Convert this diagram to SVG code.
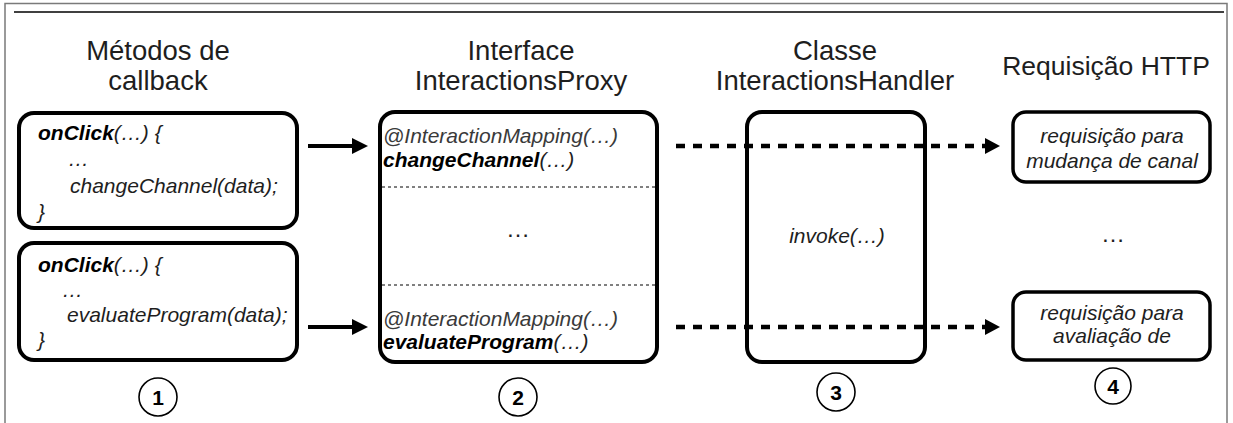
<svg xmlns="http://www.w3.org/2000/svg" width="1233" height="423" viewBox="0 0 1233 423">
<defs>
<style>
.head{font-family:"Liberation Sans",Arial,sans-serif;font-size:27.5px;fill:#1e1e1e;text-anchor:middle}
.code{font-family:"Liberation Sans",Arial,sans-serif;font-size:21px;font-style:italic;fill:#1e1e1e}
.b{font-weight:bold;fill:#000}
.ann{fill:#3a3a3a}
.mid{text-anchor:middle}
.box{fill:#fff;stroke:#000;stroke-width:4}
.box4{fill:#fff;stroke:#000;stroke-width:3.5}
.sep{stroke:#000;stroke-width:1;stroke-dasharray:3 3}
.num{font-family:"Liberation Sans",Arial,sans-serif;font-size:21px;font-weight:bold;fill:#000;text-anchor:middle}
.circ{fill:#fff;stroke:#000;stroke-width:1.6}
.solid{stroke:#000;stroke-width:4;fill:none}
.dash{stroke:#000;stroke-width:4.5;fill:none;stroke-dasharray:9 8}
</style>
<marker id="ah" markerUnits="userSpaceOnUse" markerWidth="16" markerHeight="16" refX="0" refY="8" orient="auto" viewBox="0 0 16 16">
<path d="M0,0 L16,8 L0,16 z" fill="#000"/>
</marker>
<marker id="ahd" markerUnits="userSpaceOnUse" markerWidth="15" markerHeight="16" refX="0" refY="8" orient="auto" viewBox="0 0 15 16">
<path d="M0,0 L15,8 L0,16 z" fill="#000"/>
</marker>
</defs>
<rect width="1233" height="423" fill="#fff"/>
<g id="frame">
<path d="M5,423 V3.5 H1227 V423" fill="none" stroke="#7a7a7a" stroke-width="1.5"/>
<line x1="14" y1="12" x2="1224" y2="12" stroke="#000" stroke-width="1.5"/>
</g>
<g id="headings">
<text class="head" x="158" y="60">Métodos de</text>
<text class="head" x="158" y="90">callback</text>
<text class="head" x="521" y="60">Interface</text>
<text class="head" x="521" y="90">InteractionsProxy</text>
<text class="head" x="835" y="60">Classe</text>
<text class="head" x="835" y="90">InteractionsHandler</text>
<text class="head" x="1106" y="75" style="font-size:26.5px">Requisição HTTP</text>
</g>
<g id="connectors">
<line class="solid" x1="308" y1="146" x2="352" y2="146" marker-end="url(#ah)"/>
<line class="solid" x1="308" y1="327" x2="352" y2="327" marker-end="url(#ah)"/>
<line class="dash" x1="676" y1="146" x2="985" y2="146" marker-end="url(#ahd)"/>
<line class="dash" x1="676" y1="327" x2="985" y2="327" marker-end="url(#ahd)"/>
</g>
<g id="callback1">
<rect class="box" x="19" y="113" width="278" height="115" rx="15"/>
<text class="code" x="38" y="140"><tspan class="b">onClick</tspan>(…) {</text>
<text class="code" x="68" y="166">…</text>
<text class="code" x="70" y="193">changeChannel(data);</text>
<text class="code" x="38" y="219">}</text>
</g>
<g id="callback2">
<rect class="box" x="19" y="243" width="278" height="117" rx="15"/>
<text class="code" x="38" y="272"><tspan class="b">onClick</tspan>(…) {</text>
<text class="code" x="62" y="297">…</text>
<text class="code" x="67" y="322">evaluateProgram(data);</text>
<text class="code" x="38" y="347">}</text>
</g>
<g id="proxy">
<rect class="box" x="380" y="112" width="277" height="250" rx="15"/>
<line class="sep" x1="382" y1="187" x2="655" y2="187"/>
<line class="sep" x1="382" y1="285" x2="655" y2="285"/>
<text class="code ann" x="383" y="143">@InteractionMapping(…)</text>
<text class="code" x="383" y="167"><tspan class="b">changeChannel</tspan>(…)</text>
<text class="code mid" x="518" y="237" style="font-style:normal;font-size:24px">…</text>
<text class="code ann" x="383" y="326">@InteractionMapping(…)</text>
<text class="code" x="383" y="349"><tspan class="b">evaluateProgram</tspan>(…)</text>
</g>
<g id="handler">
<rect class="box" x="747" y="112" width="178" height="250" rx="15" style="fill:none"/>
<text class="code mid" x="837" y="243">invoke(…)</text>
</g>
<g id="request1">
<rect class="box4" x="1013" y="112" width="197" height="70" rx="13"/>
<text class="code mid" x="1112" y="143">requisição para</text>
<text class="code mid" x="1112" y="168">mudança de canal</text>
</g>
<text class="code mid" x="1113" y="242" style="font-style:normal;font-size:24px">…</text>
<g id="request2">
<rect class="box4" x="1013" y="292" width="197" height="68" rx="13"/>
<text class="code mid" x="1112" y="320">requisição para</text>
<text class="code mid" x="1112" y="343">avaliação de</text>
</g>
<g id="step1"><circle class="circ" cx="158" cy="397" r="19"/><text class="num" x="158" y="404.5">1</text></g>
<g id="step2"><circle class="circ" cx="518" cy="397" r="19"/><text class="num" x="518" y="404.5">2</text></g>
<g id="step3"><circle class="circ" cx="836" cy="392" r="19"/><text class="num" x="836" y="399.5">3</text></g>
<g id="step4"><circle class="circ" cx="1113" cy="386" r="18"/><text class="num" x="1113" y="393.5">4</text></g>
</svg>
